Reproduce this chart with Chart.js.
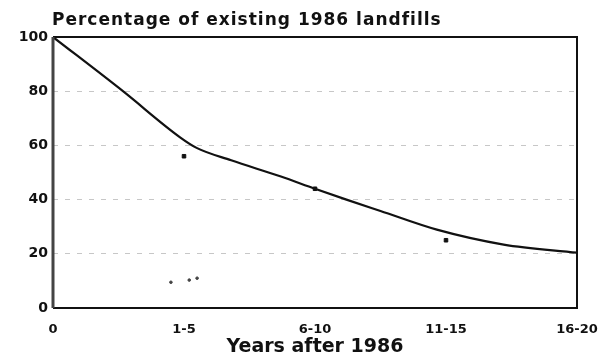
<!DOCTYPE html>
<html lang="en">
  <head>
    <meta charset="UTF-8" />
    <script src="https://cdn.jsdelivr.net/npm/chart.js@4.4.0/dist/chart.umd.min.js"></script>
    <title>Landfills</title>
    <style>
      body { margin: 0; padding: 0; background: #fff; }
      .container { width: 606px; height: 359px; position: relative; }
    </style>
  </head>
  <body>
    <div class="container">
      <canvas id="chart"></canvas>
    </div>
    <script>
      // values
      const curveYears = [0, 2.67, 4.85, 5.5, 6.8, 8.7, 10, 11.2, 12.5, 14.65, 17.2, 20]
      const curvePct = [100, 80, 63, 59, 54.5, 48.5, 44, 40, 35.8, 28.9, 23.4, 20.4]
      const pointYears = [5, 10, 15]
      const pointPct = [56, 44, 25]
      const speckYears = [4.5, 5.2, 5.5]
      const speckPct = [9.5, 10.3, 11]
      const xTickValues = [0, 5, 10, 15, 20]
      const xTickLabels = ['0', '1-5', '6-10', '11-15', '16-20']
      const yTicks = [0, 20, 40, 60, 80, 100]

      const titleText = 'Percentage of existing 1986 landfills'
      const font = '"DejaVu Sans", sans-serif'

      const frame = {
        id: 'frame',
        afterDraw(chart) {
          const { ctx, chartArea: a } = chart
          ctx.save()
          ctx.strokeStyle = '#111'
          ctx.lineWidth = 2
          ctx.beginPath()
          ctx.moveTo(a.left, a.top)
          ctx.lineTo(a.right, a.top)
          ctx.lineTo(a.right, a.bottom)
          ctx.lineTo(a.left, a.bottom)
          ctx.stroke()
          ctx.strokeStyle = '#444'
          ctx.lineWidth = 3
          ctx.beginPath()
          ctx.moveTo(a.left, a.top)
          ctx.lineTo(a.left, a.bottom)
          ctx.stroke()
          // title sits flush with the plot's left edge
          ctx.fillStyle = '#111'
          ctx.font = 'bold 17px ' + font
          ctx.letterSpacing = '1px'
          ctx.textBaseline = 'alphabetic'
          ctx.fillText(titleText, a.left - 1, 25)
          ctx.restore()
        },
      }

      const pts = (xs, ys) => xs.map((x, i) => ({ x: x, y: ys[i] }))

      new Chart(document.getElementById('chart'), {
        type: 'line',
        data: {
          datasets: [
            {
              data: pts(curveYears, curvePct),
              borderColor: '#111',
              borderWidth: 2.2,
              pointRadius: 0,
              cubicInterpolationMode: 'monotone',
              fill: false,
            },
            {
              type: 'scatter',
              data: pts(pointYears, pointPct),
              backgroundColor: '#111',
              borderColor: '#111',
              pointStyle: 'rect',
              pointRadius: 2.5,
            },
            {
              type: 'scatter',
              data: pts(speckYears, speckPct),
              backgroundColor: '#444',
              borderColor: '#444',
              pointRadius: 1.3,
            },
          ],
        },
        options: {
          responsive: true,
          maintainAspectRatio: false,
          animation: false,
          layout: { padding: { left: 0, right: 29, top: 37, bottom: 0 } },
          plugins: {
            legend: { display: false },
            tooltip: { enabled: false },
          },
          scales: {
            x: {
              type: 'linear',
              min: 0,
              max: 20,
              afterBuildTicks: (s) => { s.ticks = xTickValues.map((v) => ({ value: v })) },
              afterFit: (s) => { s.height = 51 },
              border: { display: false },
              grid: { display: false },
              ticks: {
                padding: 6,
                color: '#111',
                font: { family: font, size: 13, weight: 'bold' },
                maxRotation: 0,
                callback: (v) => xTickLabels[xTickValues.indexOf(v)],
              },
              title: {
                display: true,
                text: 'Years after 1986',
                color: '#111',
                font: { family: font, size: 19, weight: 'bold' },
                padding: { top: 0, bottom: 1 },
              },
            },
            y: {
              min: 0,
              max: 100,
              afterBuildTicks: (s) => { s.ticks = yTicks.map((v) => ({ value: v })) },
              afterFit: (s) => { s.width = 53 },
              grid: {
                drawTicks: false,
                color: (c) => (c.tick.value === 0 || c.tick.value === 100 ? 'rgba(0,0,0,0)' : 'rgba(0,0,0,0.22)'),
                lineWidth: 1,
              },
              border: { display: false, dash: [5, 7] },
              ticks: {
                padding: 5,
                color: '#111',
                font: { family: font, size: 14, weight: 'bold' },
              },
            },
          },
        },
        plugins: [frame],
      })
    </script>
  </body>
</html>
